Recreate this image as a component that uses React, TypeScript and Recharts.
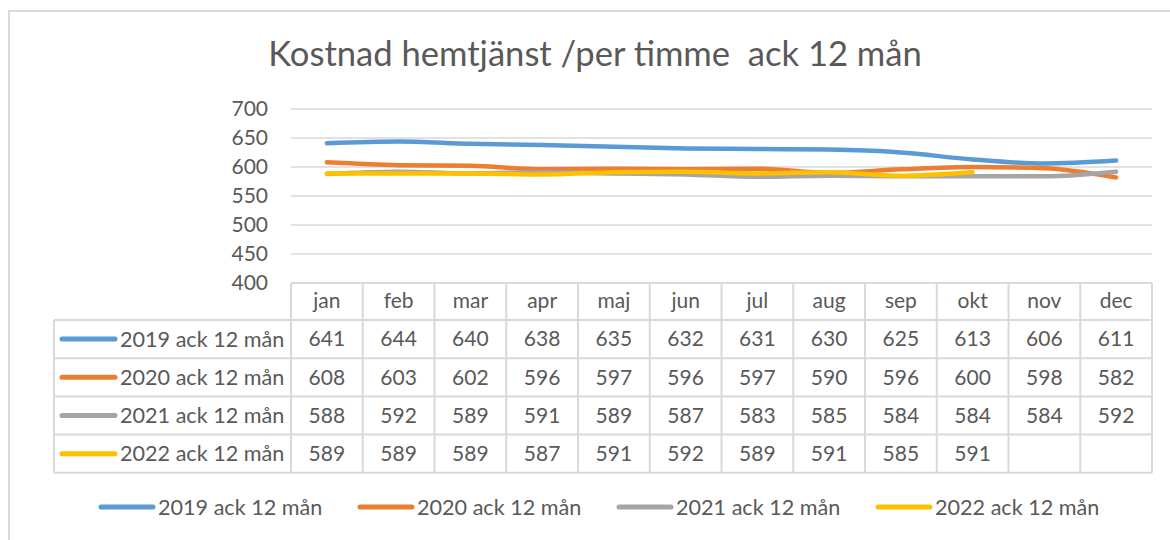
import React from 'react';
import { LineChart, Line, XAxis, YAxis, CartesianGrid } from 'recharts';

const months = ['jan', 'feb', 'mar', 'apr', 'maj', 'jun', 'jul', 'aug', 'sep', 'okt', 'nov', 'dec'];
const s2019 = [641, 644, 640, 638, 635, 632, 631, 630, 625, 613, 606, 611];
const s2020 = [608, 603, 602, 596, 597, 596, 597, 590, 596, 600, 598, 582];
const s2021 = [588, 592, 589, 591, 589, 587, 583, 585, 584, 584, 584, 592];
const s2022 = [589, 589, 589, 587, 591, 592, 589, 591, 585, 591, null, null];
const yTicks = [400, 450, 500, 550, 600, 650, 700];

const series = [
  { key: 's2019', name: '2019 ack 12 mån', color: '#5B9BD5', values: s2019 },
  { key: 's2020', name: '2020 ack 12 mån', color: '#ED7D31', values: s2020 },
  { key: 's2021', name: '2021 ack 12 mån', color: '#A5A5A5', values: s2021 },
  { key: 's2022', name: '2022 ack 12 mån', color: '#FFC000', values: s2022 },
];

const data = months.map((m, i) => {
  const row: Record<string, string | number | null> = { month: m };
  series.forEach((s) => (row[s.key] = s.values[i]));
  return row;
});

// plot geometry
const W = 1170;
const H = 540;
const PLOT_L = 291;
const PLOT_R = 1152;
const PLOT_T = 109;
const PLOT_B = 283;
const Y_AXIS_W = 80;
const X_AXIS_H = 40;
const COL_W = (PLOT_R - PLOT_L) / 12;
const ROW_H = 38.2;
const HEAD_H = 37;
const TABLE_L = 54;

const FONT = 'Lato, "Noto Sans", sans-serif';
const TEXT = '#595959';
const GRID = '#d9d9d9';

const LegendKey = ({ color }: { color: string }) => (
  <svg width={58} height={8} style={{ display: 'block' }}>
    <line x1={3} y1={4} x2={55} y2={4} stroke={color} strokeWidth={5} strokeLinecap="round" />
  </svg>
);

export default function App() {
  return (
    <div
      style={{
        position: 'absolute',
        left: 0,
        top: 0,
        width: W,
        height: H,
        background: '#fff',
        overflow: 'hidden',
        fontFamily: FONT,
        color: TEXT,
      }}
    >
      <div
        style={{
          position: 'absolute',
          left: 8,
          top: 10,
          width: 1300,
          height: 700,
          border: `2px solid ${GRID}`,
        }}
      />
      <div
        style={{
          position: 'absolute',
          left: 0,
          width: W,
          top: 32,
          textAlign: 'center',
          paddingLeft: 20,
          boxSizing: 'border-box',
          fontSize: 34.6,
          lineHeight: 1.2,
          whiteSpace: 'pre',
        }}
      >
        {'Kostnad hemtjänst /per timme  ack 12 mån'}
      </div>

      <div style={{ position: 'absolute', left: 0, top: 0 }}>
        <LineChart
          width={W}
          height={H}
          data={data}
          margin={{
            top: PLOT_T,
            left: PLOT_L - Y_AXIS_W,
            right: W - PLOT_R,
            bottom: H - PLOT_B - X_AXIS_H,
          }}
        >
          <CartesianGrid horizontal vertical={false} stroke={GRID} strokeWidth={1.5} />
          <XAxis
            dataKey="month"
            padding={{ left: COL_W / 2, right: COL_W / 2 }}
            axisLine={{ stroke: GRID, strokeWidth: 2 }}
            tickLine={false}
            tickSize={0}
            tickMargin={10}
            interval={0}
            tick={{ fill: TEXT, fontSize: 21, fontFamily: FONT }}
            height={X_AXIS_H}
          />
          <YAxis
            width={Y_AXIS_W}
            domain={[400, 700]}
            ticks={yTicks}
            interval={0}
            axisLine={false}
            tickLine={false}
            tickSize={0}
            tickMargin={23}
            tick={{ fill: TEXT, fontSize: 21, fontFamily: FONT }}
          />
          {series.map((s) => (
            <Line
              key={s.key}
              type="monotone"
              dataKey={s.key}
              name={s.name}
              stroke={s.color}
              strokeWidth={4.5}
              strokeLinecap="round"
              dot={false}
              activeDot={false}
              isAnimationActive={false}
            />
          ))}
        </LineChart>
      </div>

      {/* data table */}
      <svg width={W} height={H} style={{ position: 'absolute', left: 0, top: 0 }}>
        {months.map((_, i) => (
          <line
            key={'v' + i}
            x1={PLOT_L + i * COL_W}
            x2={PLOT_L + i * COL_W}
            y1={PLOT_B}
            y2={PLOT_B + HEAD_H + ROW_H * 4}
            stroke={GRID}
            strokeWidth={2}
          />
        ))}
        <line x1={PLOT_R} x2={PLOT_R} y1={PLOT_B} y2={PLOT_B + HEAD_H + ROW_H * 4} stroke={GRID} strokeWidth={2} />
        <line x1={TABLE_L} x2={TABLE_L} y1={PLOT_B + HEAD_H} y2={PLOT_B + HEAD_H + ROW_H * 4} stroke={GRID} strokeWidth={2} />
        {[0, 1, 2, 3, 4].map((r) => (
          <line
            key={'h' + r}
            x1={TABLE_L}
            x2={PLOT_R}
            y1={PLOT_B + HEAD_H + r * ROW_H}
            y2={PLOT_B + HEAD_H + r * ROW_H}
            stroke={GRID}
            strokeWidth={2}
          />
        ))}
        {series.map((s, r) => {
          const cy = PLOT_B + HEAD_H + r * ROW_H + ROW_H / 2;
          return (
            <g key={s.key}>
              <line x1={62} x2={115} y1={cy} y2={cy} stroke={s.color} strokeWidth={5} strokeLinecap="round" />
              <text x={120} y={cy} dy="0.35em" fontSize={21.6} fill={TEXT} fontFamily={FONT}>
                {s.name}
              </text>
              {s.values.map((v, i) =>
                v == null ? null : (
                  <text
                    key={i}
                    x={PLOT_L + i * COL_W + COL_W / 2}
                    y={cy}
                    dy="0.35em"
                    textAnchor="middle"
                    fontSize={21}
                    fill={TEXT}
                    fontFamily={FONT}
                  >
                    {v}
                  </text>
                )
              )}
            </g>
          );
        })}
      </svg>

      {/* legend */}
      <div
        style={{
          position: 'absolute',
          left: 98,
          top: 494,
          display: 'flex',
          alignItems: 'center',
          fontSize: 21.6,
        }}
      >
        {series.map((s) => (
          <div key={s.key} style={{ display: 'flex', alignItems: 'center', width: 259 }}>
            <LegendKey color={s.color} />
            <span style={{ marginLeft: 2 }}>{s.name}</span>
          </div>
        ))}
      </div>
    </div>
  );
}
